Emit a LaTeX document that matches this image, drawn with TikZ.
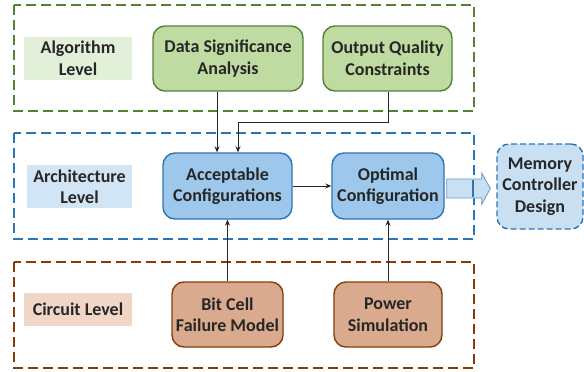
\documentclass[tikz,border=0pt]{standalone}
\usepackage{fontspec}
\setmainfont{Carlito}
\usetikzlibrary{arrows.meta,calc}
\definecolor{grnfill}{HTML}{BFDBA2}
\definecolor{grnline}{HTML}{548235}
\definecolor{grnlab}{HTML}{E2EFD9}
\definecolor{blufill}{HTML}{9DC8EB}
\definecolor{bluline}{HTML}{2E75B6}
\definecolor{blulab}{HTML}{D2E5F5}
\definecolor{brnfill}{HTML}{D9AA8E}
\definecolor{brnline}{HTML}{843C0C}
\definecolor{brnlab}{HTML}{F0D6C6}
\definecolor{memfill}{HTML}{C9E0F3}
\definecolor{txt}{HTML}{262626}
\tikzset{
  every node/.style={font=\fontsize{18}{21.5}\selectfont\bfseries, text=txt, align=center, inner sep=0pt},
  levelbox/.style={dashed, dash pattern=on 10pt off 5pt, line width=1.4pt},
  procbox/.style={rounded corners=12pt, line width=1.4pt},
  conn/.style={line width=0.9pt, draw=black!85, -{Stealth[length=6pt,width=5pt]}},
}
\begin{document}
\begin{tikzpicture}[x=1pt,y=-1pt]
\useasboundingbox (0,0) rectangle (584,372);

% level frames
\draw[levelbox, grnline] (14,5) rectangle (474,111);
\draw[levelbox, bluline] (14,133) rectangle (474,239);
\draw[levelbox, brnline] (14,262) rectangle (474,368);

% level labels
\node[fill=grnlab, minimum width=108pt, minimum height=43pt] (alg) at (78,58.5) {Algorithm\\Level};
\node[fill=blulab, minimum width=105pt, minimum height=43pt] (arch) at (79.5,186.5) {Architecture\\Level};
\node[fill=brnlab, minimum width=108pt, minimum height=33pt] (circ) at (78,309.5) {Circuit Level};

% algorithm level
\node[procbox, draw=grnline, fill=grnfill, minimum width=150pt, minimum height=65pt] (dsa) at (228,58.5) {Data Significance\\Analysis};
\node[procbox, draw=grnline, fill=grnfill, minimum width=129pt, minimum height=65pt] (oqc) at (387.5,58.5) {Output Quality\\Constraints};

% architecture level
\node[procbox, draw=bluline, fill=blufill, minimum width=129pt, minimum height=66pt] (acc) at (227.5,186) {Acceptable\\Configurations};
\node[procbox, draw=bluline, fill=blufill, minimum width=112pt, minimum height=66pt] (opt) at (388,186) {Optimal\\Configuration};

% circuit level
\node[procbox, draw=brnline, fill=brnfill, minimum width=111pt, minimum height=65pt] (bcf) at (227.5,314.5) {Bit Cell\\Failure Model};
\node[procbox, draw=brnline, fill=brnfill, minimum width=108pt, minimum height=65pt] (pow) at (388,314.5) {Power\\Simulation};

% memory controller
\node[procbox, dashed, dash pattern=on 6pt off 3pt, draw=bluline, fill=memfill, minimum width=86pt, minimum height=85pt] (mem) at (540,186.5) {Memory\\Controller\\Design};

% block arrow from the optimal configuration towards the controller
\coordinate (bs) at ($(opt.east)+(2,2.5)$);
\draw[draw=bluline!75, fill=memfill, line width=0.8pt]
  ($(bs)+(0,-9.5)$) -- ++(35,0) -- ++(0,-6) -- ($(mem.west)+(-6,2)$)
  -- ($(bs)+(35,16)$) -- ++(0,-6.5) -- ($(bs)+(0,9.5)$) -- cycle;
\draw[bluline, line width=2pt] (473,179.5) -- (473,196.5);

% connectors
\draw[conn] (dsa.south -| 217,0) -- (acc.north -| 217,0);
\coordinate (bend) at (388,122);
\draw[conn] (oqc.south -| bend) -- (bend) -- (238,122) -- (acc.north -| 238,0);
\draw[conn] (acc.east) -- (opt.west);
\draw[conn] (bcf.north) -- (acc.south);
\draw[conn] (pow.north) -- (opt.south);
\end{tikzpicture}
\end{document}
